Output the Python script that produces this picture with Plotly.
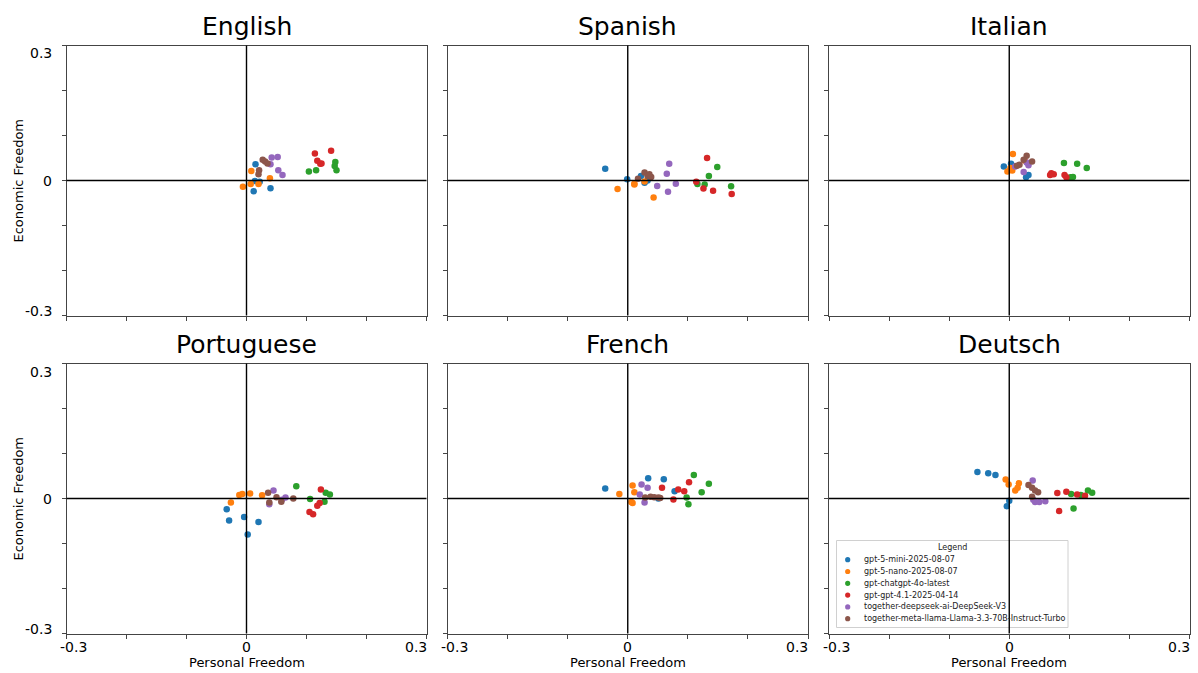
import plotly.graph_objects as go

# ---------------- data ----------------
MODELS = [
    "gpt-5-mini-2025-08-07",
    "gpt-5-nano-2025-08-07",
    "gpt-chatgpt-4o-latest",
    "gpt-gpt-4.1-2025-04-14",
    "together-deepseek-ai-DeepSeek-V3",
    "together-meta-llama-Llama-3.3-70B-Instruct-Turbo",
]
COLORS = ["#1f77b4", "#ff7f0e", "#2ca02c", "#d62728", "#9467bd", "#8c564b"]
LANGUAGES = ["English", "Spanish", "Italian", "Portuguese", "French", "Deutsch"]
TICK_VALUES = [-0.3, -0.2, -0.1, 0, 0.1, 0.2, 0.3]
TICK_LABELS = {-0.3: "-0.3", 0: "0", 0.3: "0.3"}

# personal freedom (x) / economic freedom (y), one sub-list per model (MODELS order)
english_pf = [[0.015, 0.014, 0.022, 0.012, 0.040], [0.008, 0.039, -0.006, 0.007, 0.020],
              [0.104, 0.116, 0.148, 0.147, 0.150], [0.114, 0.141, 0.118, 0.123, 0.125],
              [0.042, 0.052, 0.040, 0.053, 0.060], [0.027, 0.031, 0.035, 0.021, 0.020]]
english_ef = [[0.036, -0.001, -0.003, -0.024, -0.017], [0.021, 0.005, -0.014, -0.008, -0.008],
              [0.020, 0.023, 0.041, 0.032, 0.023], [0.060, 0.066, 0.044, 0.037, 0.038],
              [0.051, 0.052, 0.036, 0.023, 0.012], [0.046, 0.042, 0.038, 0.023, 0.014]]

spanish_pf = [[-0.0375, -0.001, 0.022, 0.028, 0.033], [-0.017, 0.011, 0.011, 0.028, 0.043],
              [0.149, 0.135, 0.116, 0.128, 0.172], [0.132, 0.114, 0.126, 0.142, 0.173],
              [0.069, 0.065, 0.049, 0.067, 0.080], [0.017, 0.028, 0.033, 0.039, 0.036]]
spanish_ef = [[0.026, 0.003, 0.010, -0.005, 0.000], [-0.019, -0.007, -0.009, -0.002, -0.038],
              [0.030, 0.010, -0.008, -0.009, -0.013], [0.050, -0.003, -0.018, -0.023, -0.030],
              [0.037, 0.015, -0.012, -0.025, -0.007], [0.004, 0.018, 0.010, 0.008, 0.014]]

italian_pf = [[-0.009, 0.003, 0.028, 0.032, 0.007], [0.006, -0.003, 0.005, 0.002, 0.026],
              [0.091, 0.113, 0.129, 0.102, 0.106], [0.070, 0.074, 0.092, 0.095, 0.068],
              [0.032, 0.024, 0.010, 0.029], [0.029, 0.024, 0.017, 0.013, 0.038]]
italian_ef = [[0.031, 0.037, 0.007, 0.012, 0.032], [0.059, 0.020, 0.022, 0.028, 0.044],
              [0.039, 0.037, 0.028, 0.007, 0.008], [0.016, 0.014, 0.012, 0.007, 0.012],
              [0.034, 0.019, 0.031, 0.040], [0.055, 0.046, 0.035, 0.033, 0.042]]

portuguese_pf = [[-0.033, -0.029, -0.004, 0.002, 0.020], [-0.026, -0.012, -0.007, 0.006, 0.026],
                 [0.083, 0.106, 0.132, 0.139, 0.130], [0.124, 0.122, 0.118, 0.105, 0.111],
                 [0.045, 0.038, 0.065, 0.059], [0.036, 0.038, 0.050, 0.058, 0.078]]
portuguese_ef = [[-0.024, -0.049, -0.041, -0.080, -0.052], [-0.009, 0.008, 0.010, 0.011, 0.007],
                 [0.027, -0.001, 0.013, 0.009, -0.007], [0.020, -0.010, -0.016, -0.030, -0.035],
                 [0.018, -0.013, 0.002, -0.003], [0.013, -0.009, 0.003, -0.007, 0.000]]

french_pf = [[-0.0375, 0.034, 0.060, 0.078, 0.051], [-0.014, 0.008, 0.011, 0.006, 0.008],
             [0.110, 0.135, 0.123, 0.098, 0.101], [0.102, 0.057, 0.084, 0.094, 0.076],
             [0.023, 0.033, 0.020, 0.028], [0.029, 0.038, 0.044, 0.051, 0.054]]
french_ef = [[0.022, 0.045, 0.043, 0.016, 0.000], [0.010, 0.029, 0.014, -0.008, -0.010],
             [0.052, 0.033, 0.014, 0.002, -0.013], [0.036, 0.024, 0.020, 0.016, -0.002],
             [0.031, 0.024, 0.009, -0.009], [0.002, 0.004, 0.003, 0.002, 0.001]]

deutsch_pf = [[-0.053, -0.035, -0.023, 0.000, -0.004], [-0.006, -0.001, 0.016, 0.014, 0.010],
              [0.103, 0.119, 0.131, 0.138, 0.107], [0.080, 0.095, 0.113, 0.126, 0.083],
              [0.039, 0.040, 0.043, 0.050, 0.060], [0.032, 0.038, 0.043, 0.048, 0.038]]
deutsch_ef = [[0.059, 0.056, 0.052, -0.005, -0.017], [0.042, 0.031, 0.034, 0.024, 0.018],
              [0.010, 0.008, 0.018, 0.013, -0.022], [0.012, 0.015, 0.009, 0.006, -0.028],
              [0.040, -0.003, -0.008, -0.008, -0.006], [0.030, 0.024, 0.018, 0.014, 0.004]]

PANEL_PF = [english_pf, spanish_pf, italian_pf, portuguese_pf, french_pf, deutsch_pf]
PANEL_EF = [english_ef, spanish_ef, italian_ef, portuguese_ef, french_ef, deutsch_ef]

# ---------------- layout helpers ----------------
W, H = 1198, 673
FONT = "DejaVu Sans"


def px(x):
    return x / W


def py(y):
    return 1 - y / H


COL_X = [(66.5, 426.5), (447.5, 808), (829, 1189.5)]
ROW_Y = [(45.5, 315.5), (363.5, 633.5)]

fig = go.Figure()
layout = dict(
    width=W, height=H,
    margin=dict(l=0, r=0, t=0, b=0),
    paper_bgcolor="white", plot_bgcolor="white",
    showlegend=False,
    font=dict(family=FONT, color="black"),
)
annotations = []
shapes = []

for i, lang in enumerate(LANGUAGES):
    r, c = divmod(i, 3)
    k = "" if i == 0 else str(i + 1)
    x0, x1 = COL_X[c]
    ytop, ybot = ROW_Y[r]
    axis_common = dict(
        range=[-0.3, 0.3], tickvals=TICK_VALUES, showticklabels=False,
        ticks="outside", ticklen=4, tickwidth=1, tickcolor="#444",
        showline=True, mirror=True, linecolor="#444", linewidth=1,
        showgrid=False, zeroline=False, fixedrange=True,
    )
    layout["xaxis" + k] = dict(axis_common, domain=[px(x0), px(x1)], anchor="y" + k)
    layout["yaxis" + k] = dict(axis_common, domain=[py(ybot), py(ytop)], anchor="x" + k)

    for m, model in enumerate(MODELS):
        fig.add_trace(go.Scatter(
            x=PANEL_PF[i][m], y=PANEL_EF[i][m], mode="markers",
            name=model, legendgroup=model, showlegend=False,
            marker=dict(color=COLORS[m], size=6.5, line=dict(width=0)),
            xaxis="x" + k, yaxis="y" + k,
        ))

    # panel title
    annotations.append(dict(
        text=lang, x=px((x0 + x1) / 2), y=py(ytop - 18.5), xref="paper", yref="paper",
        xanchor="center", yanchor="middle", showarrow=False,
        font=dict(size=25, family=FONT, color="black"),
    ))

    # y tick labels & title on the left column
    if c == 0:
        for v, lab in TICK_LABELS.items():
            shift = -8 if v == 0.3 else (5 if v == -0.3 else 0)
            annotations.append(dict(
                text=lab, x=px(x0 - 13), y=v, xref="paper", yref="y" + k,
                xanchor="right", yanchor="middle", yshift=shift, showarrow=False,
                font=dict(size=14, family=FONT, color="black"),
            ))
        annotations.append(dict(
            text="Economic Freedom", x=px(18), y=py((ytop + ybot) / 2),
            xref="paper", yref="paper", xanchor="center", yanchor="middle",
            textangle=-90, showarrow=False,
            font=dict(size=13, family=FONT, color="black"),
        ))
    # x tick labels & title on the bottom row
    if r == 1:
        for v, lab in TICK_LABELS.items():
            shift = 7 if v == -0.3 else (-11 if v == 0.3 else 0)
            annotations.append(dict(
                text=lab, x=v, y=py(ybot + 3.5), xref="x" + k, yref="paper",
                xanchor="center", yanchor="top", xshift=shift, showarrow=False,
                font=dict(size=14, family=FONT, color="black"),
            ))
        annotations.append(dict(
            text="Personal Freedom", x=px((x0 + x1) / 2), y=py(662),
            xref="paper", yref="paper", xanchor="center", yanchor="middle",
            showarrow=False, font=dict(size=13, family=FONT, color="black"),
        ))

# ---------------- legend (drawn inside the Deutsch panel) ----------------
LX0, LX1, LY0, LY1 = 836.5, 1068, 540.5, 627.5
shapes.append(dict(
    type="rect", xref="paper", yref="paper", layer="above",
    x0=px(LX0), x1=px(LX1), y0=py(LY1), y1=py(LY0),
    fillcolor="rgba(255,255,255,0.85)", line=dict(color="#d0d0d0", width=1),
))
annotations.append(dict(
    text="Legend", x=px(952), y=py(547.5), xref="paper", yref="paper",
    xanchor="center", yanchor="middle", showarrow=False,
    font=dict(size=8, family=FONT, color="#222"),
))
for m, model in enumerate(MODELS):
    yy = 559.7 + m * 11.8
    shapes.append(dict(
        type="circle", xref="paper", yref="paper", layer="above",
        x0=px(847.7 - 2.6), x1=px(847.7 + 2.6), y0=py(yy + 2.6), y1=py(yy - 2.6),
        fillcolor=COLORS[m], line=dict(width=0),
    ))
    annotations.append(dict(
        text=model, x=px(861.5), y=py(yy), xref="paper", yref="paper",
        xanchor="left", yanchor="middle", showarrow=False,
        font=dict(size=8, family=FONT, color="#222"),
    ))

# ---------------- zero lines (drawn above the points and the legend box) ----------------
for i in range(6):
    k = "" if i == 0 else str(i + 1)
    shapes.append(dict(type="line", xref="x" + k, yref="y" + k + " domain", layer="above",
                       x0=0, x1=0, y0=0, y1=1, line=dict(color="black", width=1.4)))
    shapes.append(dict(type="line", xref="x" + k + " domain", yref="y" + k, layer="above",
                       x0=0, x1=1, y0=0, y1=0, line=dict(color="black", width=1.4)))

layout["annotations"] = annotations
layout["shapes"] = shapes
fig.update_layout(**layout)
fig.write_html(
    "out.html",
    config={"displayModeBar": False, "staticPlot": True},
    post_script="document.body.style.margin='0';document.body.style.overflow='hidden';",
)
